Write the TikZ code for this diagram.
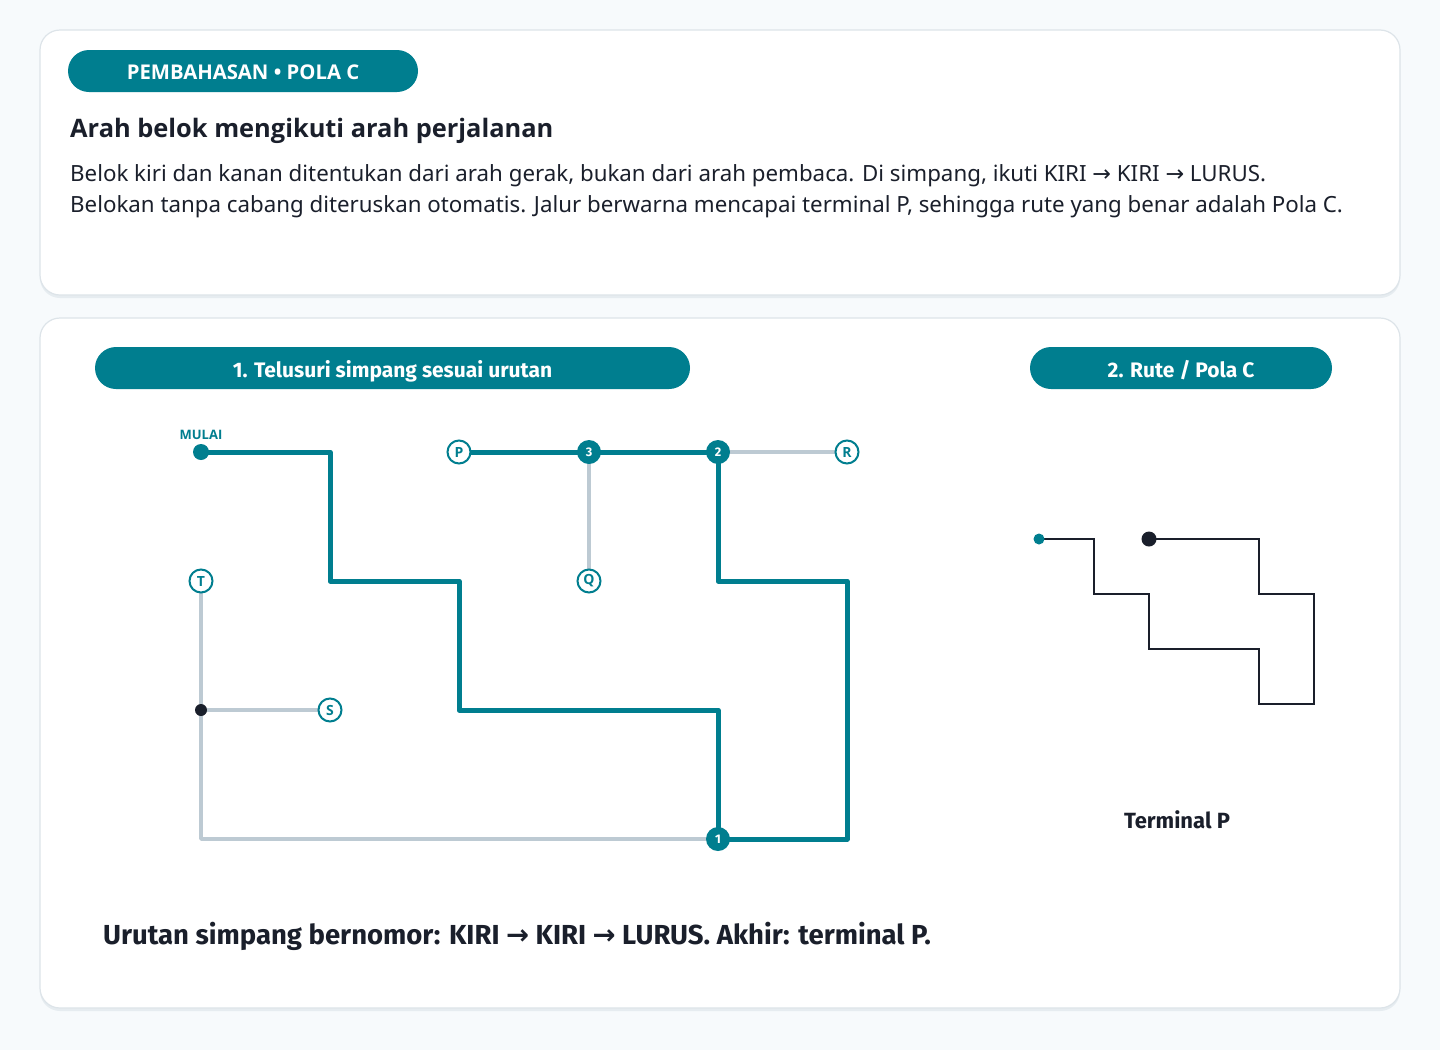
\documentclass[tikz,border=0pt]{standalone}
\usepackage{fontspec}
\usepackage{graphicx}
\setmainfont{Noto Sans}
\newfontfamily\boldsans{Open Sans}
\newfontfamily\fira{Fira Sans}
\newfontfamily\dejavu{DejaVu Sans}
\newcommand{\arw}{{\dejavu →}}
\definecolor{mainteal}{HTML}{007E8F}
\definecolor{grayline}{HTML}{BDCAD3}
\definecolor{darktext}{HTML}{1A1F2B}
\definecolor{pagebg}{HTML}{F7FAFC}
\definecolor{cardline}{HTML}{DDE4E9}
\definecolor{cardshadow}{HTML}{E6ECF0}
\pgfdeclarelayer{bglayer}
\pgfdeclarelayer{edgelayer}
\pgfsetlayers{bglayer,edgelayer,main}
\begin{document}
\begin{tikzpicture}[x=1pt,y=-1pt,
  card/.style={draw=cardline, fill=white, line width=1.2pt, rounded corners=20pt},
  cardsh/.style={fill=cardshadow, rounded corners=20pt},
  pill/.style={fill=mainteal, rounded corners=21pt, minimum height=42pt, inner sep=0pt, text=white},
  tealpath/.style={draw=mainteal, line width=5pt, line join=round, line cap=round},
  graypath/.style={draw=grayline, line width=3.5pt, line join=round},
  routepath/.style={draw=darktext, line width=2.5pt, line join=miter},
  numnode/.style={circle, fill=mainteal, minimum size=24pt, inner sep=0pt, text=white, font=\fira\bfseries\fontsize{12.5}{12.5}\selectfont},
  termnode/.style={circle, draw=mainteal, line width=2pt, fill=white, minimum size=23pt, inner sep=0pt, text=mainteal, font=\boldsans\bfseries\fontsize{14}{14}\selectfont},
  dotnode/.style={circle, inner sep=0pt},
  bodytext/.style={anchor=base west, inner sep=0pt, text=darktext, font=\fontsize{22.3}{26}\selectfont}
]
\begin{pgfonlayer}{bglayer}
\fill[pagebg] (0,0) rectangle (1440,1050);
\fill[cardsh] (40,33) rectangle (1400,298);
\draw[card] (40,30) rectangle (1400,295);
\fill[cardsh] (40,321) rectangle (1400,1011);
\draw[card] (40,318) rectangle (1400,1008);
\end{pgfonlayer}
\useasboundingbox (0,0) rectangle (1440,1050);

% header card
\node[pill, minimum width=350pt, text height=16pt, text depth=0pt, font=\boldsans\bfseries\fontsize{20.3}{20.3}\selectfont] (tag) at (243,71) {PEMBAHASAN • POLA C};
\node[anchor=base west, inner sep=0pt, text=darktext, font=\boldsans\bfseries\fontsize{25.4}{30}\selectfont] (head) at (70,137) {Arah belok mengikuti arah perjalanan};
\node[bodytext] (line1) at (70,181) {Belok kiri dan kanan ditentukan dari arah gerak, bukan dari arah pembaca. Di simpang, ikuti KIRI \arw{} KIRI \arw{} LURUS.};
\node[bodytext] (line2) at (70,212) {Belokan tanpa cabang diteruskan otomatis. Jalur berwarna mencapai terminal P, sehingga rute yang benar adalah Pola C.};

% section pills
\node[pill, minimum width=595pt, text height=19pt, text depth=0pt, font=\fira\bfseries\fontsize{21}{21}\selectfont] (sec1) at (392.5,368) {1. Telusuri simpang sesuai urutan};
\node[pill, minimum width=302pt, text height=19pt, text depth=0pt, font=\fira\bfseries\fontsize{21}{21}\selectfont] (sec2) at (1181,368) {2. Rute / Pola C};

% maze grid
\foreach \i/\x in {1/201,2/330,3/459,4/589,5/718,6/847}
  \foreach \j/\y in {1/452,2/581,3/710,4/839}
    \coordinate (g\i\j) at (\x,\y);

\node[dotnode, fill=mainteal, minimum size=16pt] (start) at (g11) {};
\node[anchor=south, inner sep=0pt, text=mainteal, font=\boldsans\bfseries\fontsize{13}{13}\selectfont] (mulai) at (201,440) {MULAI};
\node[dotnode, fill=darktext, minimum size=12pt] (junc) at (g13) {};
\node[numnode] (n1) at (g54) {1};
\node[numnode] (n2) at (g51) {2};
\node[numnode] (n3) at (g41) {3};
\node[termnode] (P) at (g31) {P};
\node[termnode] (R) at (g61) {R};
\node[termnode] (Q) at (g42) {Q};
\node[termnode] (T) at (g12) {T};
\node[termnode] (S) at (g23) {S};

\begin{pgfonlayer}{edgelayer}
\draw[graypath] (n2.center) -- (R.center);
\draw[graypath] (n3.center) -- (Q.center);
\draw[graypath] (T.center) -- (junc.center) -- (g14) -- (n1.center);
\draw[graypath] (junc.center) -- (S.center);
\draw[tealpath] (start.center) -- (g21) -- (g22) -- (g32) -- (g33) -- (g53) -- (n1.center) -- (g64) -- (g62) -- (g52) -- (n2.center) -- (n3.center) -- (P.center);
\end{pgfonlayer}

% route on the right
\foreach \i/\x in {1/1039,2/1094,3/1149,4/1204,5/1259,6/1314}
  \foreach \j/\y in {1/539,2/594,3/649,4/704}
    \coordinate (r\i\j) at (\x,\y);
\node[dotnode, fill=mainteal, minimum size=11pt] (rstart) at (r11) {};
\node[dotnode, fill=darktext, minimum size=15pt] (rend) at (r31) {};
\begin{pgfonlayer}{edgelayer}
\draw[routepath] (rstart.center) -- (r21) -- (r22) -- (r32) -- (r33) -- (r53) -- (r54) -- (r64) -- (r62) -- (r52) -- (r51) -- (rend.center);
\end{pgfonlayer}
\node[inner sep=0pt, text=darktext, font=\fira\bfseries\fontsize{22}{22}\selectfont] (termp) at (1177,820) {Terminal P};

% bottom summary
\node[anchor=base west, inner sep=0pt, text=darktext, font=\fira\bfseries\fontsize{27.5}{32}\selectfont] (summary) at (103,944) {Urutan simpang bernomor: KIRI \arw{} KIRI \arw{} LURUS. Akhir: terminal P.};
\end{tikzpicture}
\end{document}
